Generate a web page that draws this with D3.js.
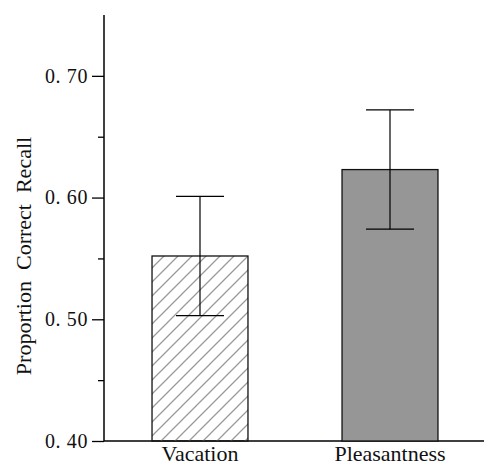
<!DOCTYPE html>
<html>
<head>
<meta charset="utf-8">
<script src="https://cdn.jsdelivr.net/npm/d3@7"></script>
<style>
  body { margin: 0; background: #fff; }
  text { font-family: "Liberation Serif", "Times New Roman", serif; fill: #111; }
</style>
</head>
<body>
<div id="chart"></div>
<script>
// Data
const categories = ["Vacation", "Pleasantness"];
const means = [0.552, 0.623];
const errors = [0.049, 0.049];
const majorTicks = [0.40, 0.50, 0.60, 0.70];
const minorTicks = [0.45, 0.55, 0.65];
const tickLabels = ["0. 40", "0. 50", "0. 60", "0. 70"];
const yLabel = "Proportion  Correct  Recall";

const width = 484, height = 468;

const svg = d3.select("#chart")
    .append("svg")
    .attr("width", width)
    .attr("height", height);

// Hatch pattern for the Vacation bar
const defs = svg.append("defs");
const hatch = defs.append("pattern")
    .attr("id", "hatch")
    .attr("patternUnits", "userSpaceOnUse")
    .attr("width", 14)
    .attr("height", 14);
hatch.append("path")
    .attr("d", "M-1,15 L15,-1 M-8,8 L8,-8 M6,22 L22,6")
    .attr("stroke", "#999")
    .attr("stroke-width", 1.3);

// Scales
const y = d3.scaleLinear()
    .domain([0.40, 0.75])
    .range([441, 15]);

const x = d3.scaleBand()
    .domain(categories)
    .range([105, 485])
    .paddingInner(0.495)
    .paddingOuter(0.2475);

const axisX = 104;

// Y axis (major ticks)
const yAxis = svg.append("g")
    .attr("transform", "translate(" + axisX + ",0)")
    .call(d3.axisLeft(y)
        .tickValues(majorTicks)
        .tickSize(12)
        .tickPadding(4)
        .tickFormat((d, i) => tickLabels[i]));
yAxis.select(".domain").remove();
yAxis.selectAll(".tick line").attr("stroke", "#000").attr("stroke-width", 1.3);
yAxis.selectAll(".tick text")
    .style("font-size", "20px")
    .style("letter-spacing", "0.6px")
    .style("white-space", "pre")
    .style("font-family", "Liberation Serif, serif");

// Minor ticks
svg.append("g")
    .attr("transform", "translate(" + axisX + ",0)")
    .call(d3.axisLeft(y).tickValues(minorTicks).tickSize(6).tickFormat(""))
    .call(g => g.select(".domain").remove())
    .selectAll(".tick line").attr("stroke", "#000").attr("stroke-width", 1.3);

// Axis lines
svg.append("line")
    .attr("x1", axisX).attr("x2", axisX)
    .attr("y1", y(0.75)).attr("y2", y(0.40))
    .attr("stroke", "#000").attr("stroke-width", 1.5);
svg.append("line")
    .attr("x1", axisX).attr("x2", width)
    .attr("y1", y(0.40)).attr("y2", y(0.40))
    .attr("stroke", "#000").attr("stroke-width", 1.3);

// Bars
const fills = ["url(#hatch)", "#969696"];
svg.selectAll(".bar")
    .data(categories)
    .enter()
    .append("rect")
    .attr("class", "bar")
    .attr("x", d => x(d))
    .attr("y", (d, i) => y(means[i]))
    .attr("width", x.bandwidth())
    .attr("height", (d, i) => y(0.40) - y(means[i]))
    .attr("fill", (d, i) => fills[i])
    .attr("stroke", "#111")
    .attr("stroke-width", 1.3);

// Error bars
const capHalf = 24;
categories.forEach((c, i) => {
    const cx = x(c) + x.bandwidth() / 2;
    const hi = y(means[i] + errors[i]);
    const lo = y(means[i] - errors[i]);
    svg.append("line")
        .attr("x1", cx).attr("x2", cx)
        .attr("y1", hi).attr("y2", lo)
        .attr("stroke", "#000").attr("stroke-width", 1.2);
    [hi, lo].forEach(v => {
        svg.append("line")
            .attr("x1", cx - capHalf).attr("x2", cx + capHalf)
            .attr("y1", v).attr("y2", v)
            .attr("stroke", "#000").attr("stroke-width", 1.2);
    });
});

// Category labels
svg.selectAll(".cat")
    .data(categories)
    .enter()
    .append("text")
    .attr("class", "cat")
    .attr("x", d => x(d) + x.bandwidth() / 2)
    .attr("y", 461)
    .attr("text-anchor", "middle")
    .style("font-size", "22px")
    .text(d => d);

// Y axis label
svg.append("text")
    .attr("transform", "rotate(-90)")
    .attr("x", -256)
    .attr("y", 31)
    .attr("text-anchor", "middle")
    .style("font-size", "22px")
    .style("white-space", "pre")
    .text(yLabel);
</script>
</body>
</html>
